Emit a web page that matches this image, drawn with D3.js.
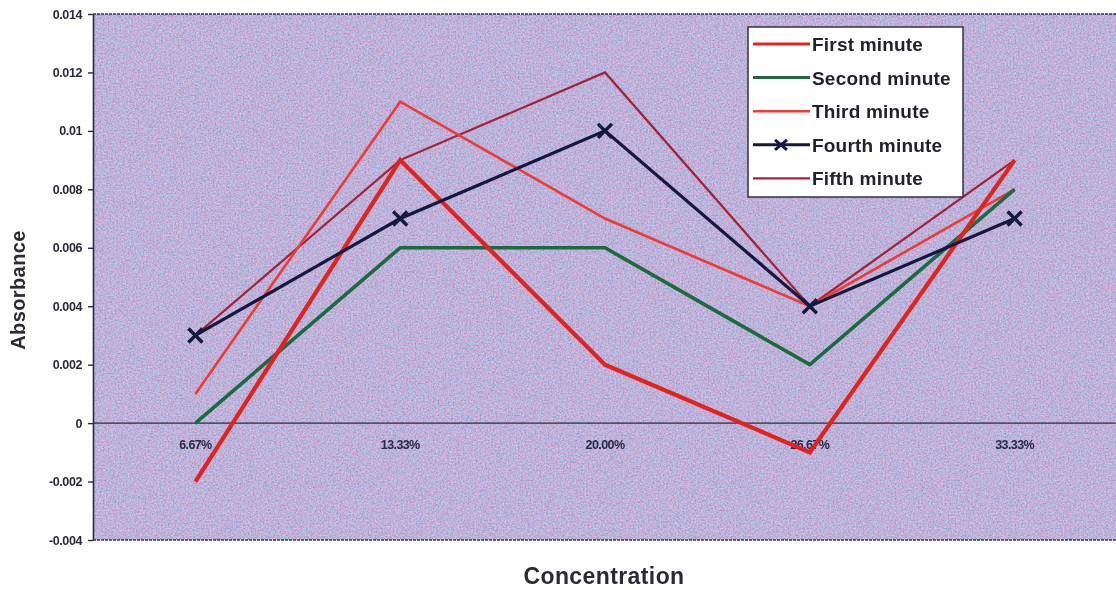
<!DOCTYPE html>
<html>
<head>
<meta charset="utf-8">
<script src="https://cdn.jsdelivr.net/npm/d3@7"></script>
<style>
  html, body { margin: 0; padding: 0; background: #fff; }
  svg { display: block; }
  text { font-family: "Liberation Sans", Arial, sans-serif; }
</style>
</head>
<body>
<svg id="chart" width="1116" height="590"></svg>
<script>
// Absorbance readings per concentration, one array per minute
const categories = ["6.67%", "13.33%", "20.00%", "26.67%", "33.33%"];
const firstMinute  = [-0.002, 0.009, 0.002, -0.001, 0.009];
const secondMinute = [0.000, 0.006, 0.006, 0.002, 0.008];
const thirdMinute  = [0.001, 0.011, 0.007, 0.004, 0.008];
const fourthMinute = [0.003, 0.007, 0.010, 0.004, 0.007];
const fifthMinute  = [0.003, 0.009, 0.012, 0.004, 0.009];
const seriesNames  = ["First minute", "Second minute", "Third minute", "Fourth minute", "Fifth minute"];
const yTicks = [-0.004, -0.002, 0, 0.002, 0.004, 0.006, 0.008, 0.01, 0.012, 0.014];

const seriesStyle = [
  { color: "#e3231f", width: 4.2, marker: false },
  { color: "#1c6a42", width: 3.6, marker: false },
  { color: "#ee3a38", width: 2.6, marker: false },
  { color: "#15183f", width: 3.2, marker: true },
  { color: "#a3233a", width: 2.2, marker: false }
];
const seriesValues = [firstMinute, secondMinute, thirdMinute, fourthMinute, fifthMinute];

const svg = d3.select("#chart");
const plot = { left: 93, top: 14, right: 1116, bottom: 540 };

const x = d3.scaleBand().domain(categories).range([plot.left, plot.right + 1]);
const y = d3.scaleLinear().domain([-0.004, 0.014]).range([plot.bottom, plot.top]);

// Speckled lavender plot background: noise mixes pink and blue grains
const defs = svg.append("defs");
const grain = defs.append("filter").attr("id", "grain")
  .attr("x", 0).attr("y", 0).attr("width", "100%").attr("height", "100%");
grain.append("feTurbulence").attr("type", "fractalNoise")
  .attr("baseFrequency", 0.6).attr("numOctaves", 2).attr("seed", 11).attr("result", "noise");
grain.append("feColorMatrix").attr("in", "noise").attr("type", "matrix")
  .attr("values", "-0.6 0.45 0 0 0.59  0.18 0.45 0 0 0.13  0.24 0.45 0 0 0.35  0 0 0 0 1");

const soft = defs.append("filter").attr("id", "soft");
soft.append("feGaussianBlur").attr("stdDeviation", 0.5);

svg.append("rect")
  .attr("x", plot.left).attr("y", plot.top)
  .attr("width", plot.right - plot.left).attr("height", plot.bottom - plot.top)
  .attr("fill", "#a99bcd").attr("filter", "url(#grain)");

// Plot frame
svg.append("line").attr("x1", plot.left).attr("x2", plot.right).attr("y1", plot.top).attr("y2", plot.top)
  .attr("stroke", "#3a3550").attr("stroke-width", 1.5).attr("stroke-dasharray", "3,1");
svg.append("line").attr("x1", plot.left).attr("x2", plot.right).attr("y1", plot.bottom).attr("y2", plot.bottom)
  .attr("stroke", "#3a3550").attr("stroke-width", 1.5).attr("stroke-dasharray", "3,1");

// Y axis
const yAxis = d3.axisLeft(y).tickValues(yTicks).tickSize(5).tickSizeOuter(0)
  .tickFormat(d => d === 0 ? "0" : String(+d.toFixed(3)));
const gy = svg.append("g").attr("transform", `translate(${plot.left},0)`).call(yAxis);
gy.select(".domain").attr("stroke", "#2a2840").attr("stroke-width", 1.6);
gy.selectAll(".tick line").attr("stroke", "#2a2840").attr("stroke-width", 1.4);
gy.selectAll(".tick text")
  .attr("x", -11).attr("fill", "#2c2c3a")
  .style("font-size", "12.5px").style("font-weight", "bold").style("letter-spacing", "-0.4px")
  .attr("filter", "url(#soft)");

// Zero baseline with category labels
svg.append("line").attr("x1", plot.left).attr("x2", plot.right).attr("y1", y(0)).attr("y2", y(0))
  .attr("stroke", "#2e2c3e").attr("stroke-width", 1.4);
const xAxis = d3.axisBottom(x).tickSize(0);
const gx = svg.append("g").attr("transform", `translate(0,${y(0)})`).call(xAxis);
gx.select(".domain").remove();
gx.selectAll(".tick text")
  .attr("y", 17).attr("fill", "#2a2a44")
  .style("font-size", "12.5px").style("font-weight", "bold").style("letter-spacing", "-0.6px")
  .attr("filter", "url(#soft)");

// Series lines
const line = d3.line().x((d, i) => x(categories[i]) + x.bandwidth() / 2).y(d => y(d));
const drawOrder = [4, 2, 1, 0, 3];
drawOrder.forEach(si => {
  const st = seriesStyle[si];
  svg.append("path").datum(seriesValues[si])
    .attr("d", line).attr("fill", "none")
    .attr("stroke", st.color).attr("stroke-width", st.width)
    .attr("stroke-linejoin", "miter").attr("filter", "url(#soft)");
  if (st.marker) {
    svg.append("g").selectAll("path").data(seriesValues[si]).join("path")
      .attr("d", (d, i) => {
        const cx = x(categories[i]) + x.bandwidth() / 2, cy = y(d), r = 7;
        return `M${cx - r},${cy - r}L${cx + r},${cy + r}M${cx - r},${cy + r}L${cx + r},${cy - r}`;
      })
      .attr("stroke", st.color).attr("stroke-width", 3.4).attr("fill", "none");
  }
});

// Legend
const legend = svg.append("g").attr("transform", "translate(748,27)");
legend.append("rect").attr("width", 215).attr("height", 170)
  .attr("fill", "#ffffff").attr("stroke", "#333040").attr("stroke-width", 1.5);
seriesNames.forEach((name, i) => {
  const st = seriesStyle[i];
  const ly = 17 + i * 33.6;
  const g = legend.append("g").attr("transform", `translate(0,${ly})`);
  g.append("line").attr("x1", 5).attr("x2", 62).attr("y1", 0).attr("y2", 0)
    .attr("stroke", st.color).attr("stroke-width", Math.min(st.width, 3));
  if (st.marker) {
    g.append("path").attr("d", "M27,-5L39,5M27,5L39,-5").attr("stroke", st.color)
      .attr("stroke-width", 3).attr("fill", "none");
  }
  g.append("text").attr("x", 64).attr("y", 7).text(name)
    .attr("fill", "#23232d").style("font-size", "19px").style("font-weight", "bold")
    .style("letter-spacing", "0.2px").attr("filter", "url(#soft)");
});

// Axis titles
svg.append("text").attr("transform", "translate(25,290) rotate(-90)")
  .attr("text-anchor", "middle").text("Absorbance")
  .attr("fill", "#2a2a34").style("font-size", "20px").style("font-weight", "bold")
  .style("letter-spacing", "0.4px").attr("filter", "url(#soft)");
svg.append("text").attr("x", 604).attr("y", 584)
  .attr("text-anchor", "middle").text("Concentration")
  .attr("fill", "#2a2a34").style("font-size", "23px").style("font-weight", "bold")
  .style("letter-spacing", "0.4px").attr("filter", "url(#soft)");
</script>
</body>
</html>
